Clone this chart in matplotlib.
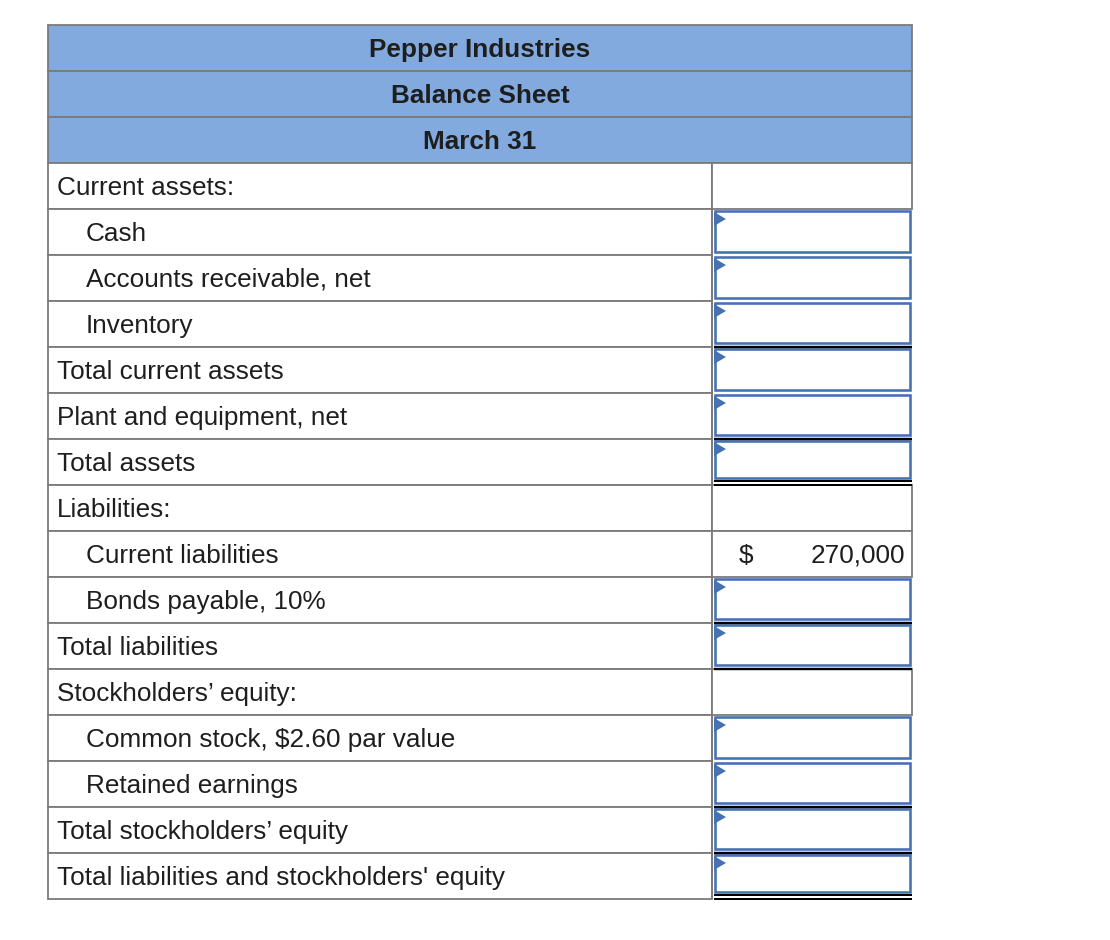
import matplotlib
matplotlib.use("Agg")
from matplotlib import pyplot as plt
from matplotlib.patches import Rectangle, Polygon

# Balance sheet template - Pepper Industries
title_lines = ["Pepper Industries", "Balance Sheet", "March 31"]

row_labels = [
    "Current assets:",
    "Cash",
    "Accounts receivable, net",
    "Inventory",
    "Total current assets",
    "Plant and equipment, net",
    "Total assets",
    "Liabilities:",
    "Current liabilities",
    "Bonds payable, 10%",
    "Total liabilities",
    "Stockholders\u2019 equity:",
    "Common stock, $2.60 par value",
    "Retained earnings",
    "Total stockholders\u2019 equity",
    "Total liabilities and stockholders' equity",
]
indented = [1, 2, 3, 8, 9, 12, 13]
heading_rows = [0, 7, 11]            # no input box on these
given_amounts = {8: 270000}          # row -> known value
single_rule = [3, 5, 9, 10, 13, 14]  # black line under the box
double_rule = [6, 15]

# layout (pixels)
W, H = 1110, 940
X0, XMID, X1 = 48, 712, 912
Y0, ROW_H = 25, 46
HEAD_FILL = "#82aadf"
GRID = "#7a7a7a"
BOX = "#4672b4"
FS = 18.8
FONT = "Liberation Sans"
TXT = "#1e1e1e"
px = 0.72  # points per pixel at dpi 100

fig = plt.figure(figsize=(W / 100, H / 100), dpi=100)
ax = fig.add_axes([0, 0, 1, 1])
ax.set_xlim(0, W)
ax.set_ylim(H, 0)
ax.axis("off")

# header block
for i, t in enumerate(title_lines):
    top = Y0 + i * ROW_H
    ax.add_patch(Rectangle((X0, top), X1 - X0, ROW_H, facecolor=HEAD_FILL,
                           edgecolor=GRID, linewidth=1.8 * px, zorder=1))
    ax.text((X0 + X1) / 2, top + 32, t, ha="center", va="baseline",
            fontsize=FS, fontweight="bold", family=FONT, color=TXT, zorder=3)

body_top = Y0 + len(title_lines) * ROW_H

for i, lab in enumerate(row_labels):
    top = body_top + i * ROW_H
    bot = top + ROW_H
    # left cell
    ax.add_patch(Rectangle((X0, top), XMID - X0, ROW_H, facecolor="white",
                           edgecolor=GRID, linewidth=1.8 * px, zorder=1))
    x_txt = 86 if i in indented else 57
    ax.text(x_txt, top + 32, lab, ha="left", va="baseline", fontsize=FS,
            family=FONT, color=TXT, zorder=3)

    if i in heading_rows or i in given_amounts:
        ax.add_patch(Rectangle((XMID, top), X1 - XMID, ROW_H, facecolor="white",
                               edgecolor=GRID, linewidth=1.8 * px, zorder=1))
        if i in given_amounts:
            ax.text(746, top + 32, "$", ha="center", va="baseline", fontsize=FS,
                    family=FONT, color=TXT, zorder=3)
            ax.text(905, top + 32, f"{given_amounts[i]:,}", ha="right", va="baseline",
                    fontsize=FS, family=FONT, color=TXT, zorder=3)
        continue

    # input box
    b_bot = bot - 3
    if i in single_rule:
        b_bot = bot - 4
    if i in double_rule:
        b_bot = bot - 7
    ax.add_patch(Rectangle((715, top + 2), 910 - 715, b_bot - (top + 2),
                           facecolor="white", edgecolor=BOX, linewidth=2.6 * px, zorder=2))
    ax.add_patch(Polygon([(714, top + 3), (726, top + 10), (714, top + 17)],
                         closed=True, facecolor=BOX, edgecolor="none", zorder=3))
    ax.plot([XMID, XMID], [top, bot], color=GRID, lw=1.8 * px, zorder=2,
            solid_capstyle="butt")

    if i in single_rule:
        ax.plot([714, 912], [bot - 0.5, bot - 0.5], color="black", lw=2.4 * px,
                zorder=4, solid_capstyle="butt")
    if i in double_rule:
        ax.plot([714, 912], [bot - 4, bot - 4], color="black", lw=2.0 * px,
                zorder=4, solid_capstyle="butt")
        ax.plot([714, 912], [bot - 0.5, bot - 0.5], color="black", lw=2.0 * px,
                zorder=4, solid_capstyle="butt")

plt.savefig("out.png", dpi=100)
